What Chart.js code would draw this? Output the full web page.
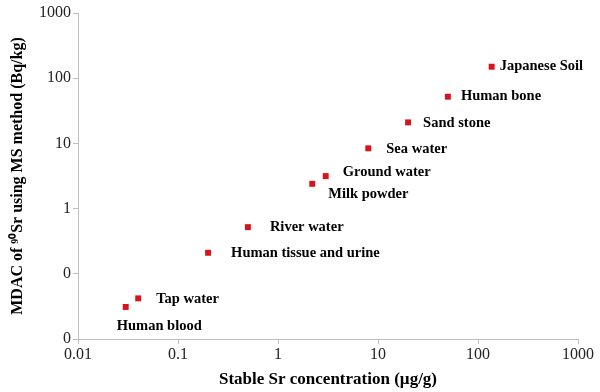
<!DOCTYPE html>
<html>
<head>
<meta charset="utf-8">
<script src="https://cdn.jsdelivr.net/npm/chart.js@4/dist/chart.umd.min.js"></script>
<style>
  html, body { margin: 0; padding: 0; background: #fff; }
  canvas { display: block; }
</style>
</head>
<body>
<canvas id="srChart" width="600" height="392"></canvas>
<script>
// sample types and values
const sampleNames = ['Human blood', 'Tap water', 'Human tissue and urine', 'River water', 'Milk powder',
                     'Ground water', 'Sea water', 'Sand stone', 'Human bone', 'Japanese Soil'];
const stableSr = [0.03, 0.04, 0.2, 0.5, 2.2, 3.0, 8.0, 20, 50, 137];
const mdac = [0.031, 0.042, 0.21, 0.52, 2.4, 3.15, 8.4, 21, 52, 150];
const xTicks = [0.01, 0.1, 1, 10, 100, 1000];
const yTicks = [0.01, 0.1, 1, 10, 100, 1000];

// where each label sits relative to its marker (px)
const labelOffsets = [[-9, 19], [18, 1], [23, 0], [22, 0], [16, 10],
                      [17, -4], [18, 1], [15, 1], [13, 0], [8, 0]];

const serif = '"Liberation Serif", "Times New Roman", serif';
const axisGrey = '#bfbfbf';

const pointLabels = {
    id: 'pointLabels',
    afterDatasetsDraw(chart) {
        const ctx = chart.ctx;
        const meta = chart.getDatasetMeta(0);
        ctx.save();
        ctx.font = 'bold 14.5px ' + serif;
        ctx.fillStyle = '#000';
        ctx.textBaseline = 'middle';
        ctx.textAlign = 'left';
        meta.data.forEach((pt, i) => {
            const [dx, dy] = labelOffsets[i];
            ctx.fillText(sampleNames[i], pt.x + dx, pt.y + dy);
        });
        ctx.restore();
    }
};

function logTicks(values) {
    return scale => { scale.ticks = values.map(v => ({ value: v })); };
}

new Chart(document.getElementById('srChart'), {
    type: 'scatter',
    data: {
        datasets: [{
            data: stableSr.map((x, i) => ({ x: x, y: mdac[i] })),
            pointStyle: 'rect',
            pointRadius: 4.2,
            pointHoverRadius: 4.2,
            backgroundColor: '#d8131b',
            borderWidth: 0
        }]
    },
    options: {
        responsive: false,
        animation: false,
        layout: { padding: { top: 13, right: 22 } },
        plugins: {
            legend: { display: false },
            tooltip: { enabled: false }
        },
        scales: {
            x: {
                type: 'logarithmic',
                min: 0.01,
                max: 1000,
                afterBuildTicks: logTicks(xTicks),
                afterFit: s => { s.height = 53; },
                border: { color: axisGrey },
                grid: { drawOnChartArea: false, color: axisGrey, tickLength: 5 },
                ticks: {
                    padding: 1,
                    color: '#222',
                    font: { family: serif, size: 16 },
                    autoSkip: false,
                    maxRotation: 0,
                    callback: v => String(v)
                },
                title: {
                    display: true,
                    text: 'Stable Sr concentration (µg/g)',
                    color: '#000',
                    font: { family: serif, size: 17, weight: 'bold' },
                    padding: { top: 0, bottom: 2 }
                }
            },
            y: {
                type: 'logarithmic',
                min: 0.01,
                max: 1000,
                afterBuildTicks: logTicks(yTicks),
                afterFit: s => { s.width = 78; },
                border: { color: axisGrey },
                grid: { drawOnChartArea: false, color: axisGrey, tickLength: 5 },
                ticks: {
                    padding: 2,
                    color: '#222',
                    font: { family: serif, size: 16 },
                    autoSkip: false,
                    callback: v => Math.round(v).toString()
                },
                title: {
                    display: true,
                    text: 'MDAC of ⁹⁰Sr using MS method (Bq/kg)',
                    color: '#000',
                    font: { family: serif, size: 16, weight: 'bold' },
                    padding: { top: 8, bottom: 2 }
                }
            }
        }
    },
    plugins: [pointLabels]
});
</script>
</body>
</html>
